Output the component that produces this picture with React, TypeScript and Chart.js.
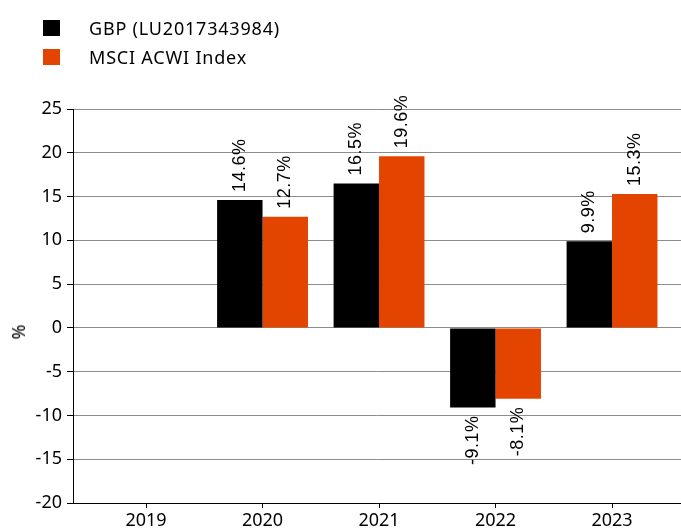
import React, { useEffect, useRef } from "react";
import { Chart, registerables } from "chart.js";

Chart.register(...registerables);

const YEARS = [2019, 2020, 2021, 2022, 2023];
const FUND_LABEL = "GBP (LU2017343984)";
const INDEX_LABEL = "MSCI ACWI Index";
const FUND_VALUES: (number | null)[] = [null, 14.6, 16.5, -9.1, 9.9];
const INDEX_VALUES: (number | null)[] = [null, 12.7, 19.6, -8.1, 15.3];
const Y_TICKS = [-20, -15, -10, -5, 0, 5, 10, 15, 20, 25];

const BLACK = "#000000";
const ORANGE = "#e34400";

const valueLabels = {
  id: "valueLabels",
  afterDatasetsDraw(chart: any) {
    const ctx = chart.ctx;
    ctx.save();
    ctx.font = "18px 'Liberation Sans', Arial, sans-serif";
    ctx.fillStyle = "#000";
    try { (ctx as any).letterSpacing = "0.5px"; } catch (e) {}
    ctx.textBaseline = "middle";
    chart.data.datasets.forEach((ds: any, di: number) => {
      const meta = chart.getDatasetMeta(di);
      meta.data.forEach((bar: any, i: number) => {
        const raw = ds.data[i];
        const v = raw == null ? null : raw.y;
        if (v == null) return;
        const txt = v.toFixed(1) + "%";
        const x = bar.x;
        ctx.save();
        if (v >= 0) {
          ctx.translate(x, bar.y - 8);
          ctx.rotate(-Math.PI / 2);
          ctx.textAlign = "left";
        } else {
          ctx.translate(x, bar.y + 8);
          ctx.rotate(-Math.PI / 2);
          ctx.textAlign = "right";
        }
        ctx.fillText(txt, 0, 0);
        ctx.restore();
      });
    });
    ctx.restore();
  },
};

export default function App() {
  const ref = useRef<HTMLCanvasElement>(null);

  useEffect(() => {
    document.body.style.margin = "0";
    const canvas = ref.current!;
    const pts = (vals: (number | null)[]) =>
      YEARS.map((y, i) => ({ x: y, y: vals[i] }));
    const tickFont = { family: "'Noto Sans', sans-serif", size: 18, lineHeight: 1 };
    const chart = new Chart(canvas, {
      type: "bar",
      data: {
        datasets: [
          { label: FUND_LABEL, data: pts(FUND_VALUES) as any, backgroundColor: BLACK },
          { label: INDEX_LABEL, data: pts(INDEX_VALUES) as any, backgroundColor: ORANGE },
        ],
      },
      options: {
        animation: false,
        responsive: false,
        maintainAspectRatio: false,
        events: [],
        layout: { padding: { top: 109, left: 0, right: 0, bottom: 0 } },
        datasets: { bar: { categoryPercentage: 0.78, barPercentage: 1 } },
        plugins: {
          legend: { display: false },
          tooltip: { enabled: false },
        },
        scales: {
          x: {
            type: "linear",
            min: 2018.373,
            max: 2023.592,
            offset: false,
            afterBuildTicks: (s: any) => {
              s.ticks = YEARS.map((v) => ({ value: v }));
            },
            afterFit: (s: any) => {
              s.height = 27;
            },
            ticks: {
              callback: (v: any) => String(v),
              color: "#000",
              font: tickFont,
              padding: 4,
              maxRotation: 0,
              autoSkip: false,
            },
            grid: {
              offset: false,
              drawOnChartArea: false,
              drawTicks: true,
              tickLength: 5,
              tickColor: "#000",
            },
            border: { color: "#000", width: 1 },
          },
          y: {
            min: -20,
            max: 25,
            afterBuildTicks: (s: any) => {
              s.ticks = Y_TICKS.map((v) => ({ value: v }));
            },
            afterFit: (s: any) => {
              s.width = 73;
            },
            ticks: {
              color: "#000",
              font: tickFont,
              padding: 5,
              callback: (v: any) => String(v),
            },
            grid: {
              color: "#8c8c8c",
              lineWidth: 1,
              tickLength: 6,
              tickColor: "#000",
            },
            border: { color: "#000", width: 1 },
          },
        },
      },
      plugins: [valueLabels],
    });
    return () => chart.destroy();
  }, []);

  const legendText: React.CSSProperties = {
    position: "absolute",
    left: 89,
    fontFamily: "'Noto Sans', sans-serif",
    fontSize: 18,
    lineHeight: "16px",
    letterSpacing: "0.8px",
    color: "#000",
    whiteSpace: "nowrap",
  };

  return (
    <div style={{ position: "absolute", left: 0, top: 0, width: 681, height: 530, background: "#fff" }}>
      <canvas ref={ref} width={681} height={530} style={{ position: "absolute", left: 0, top: 0 }} />
      <div style={{ position: "absolute", left: 43, top: 20, width: 17, height: 16, background: BLACK }} />
      <div style={{ ...legendText, top: 20 }}>{FUND_LABEL}</div>
      <div style={{ position: "absolute", left: 43, top: 49, width: 17, height: 16, background: ORANGE }} />
      <div style={{ ...legendText, top: 49 }}>{INDEX_LABEL}</div>
      <div
        style={{
          position: "absolute",
          left: 18,
          top: 332,
          transform: "translate(-50%, -50%) rotate(-90deg)",
          fontFamily: "'Noto Sans', sans-serif",
          fontSize: 18,
          color: "#000",
        }}
      >
        %
      </div>
    </div>
  );
}
